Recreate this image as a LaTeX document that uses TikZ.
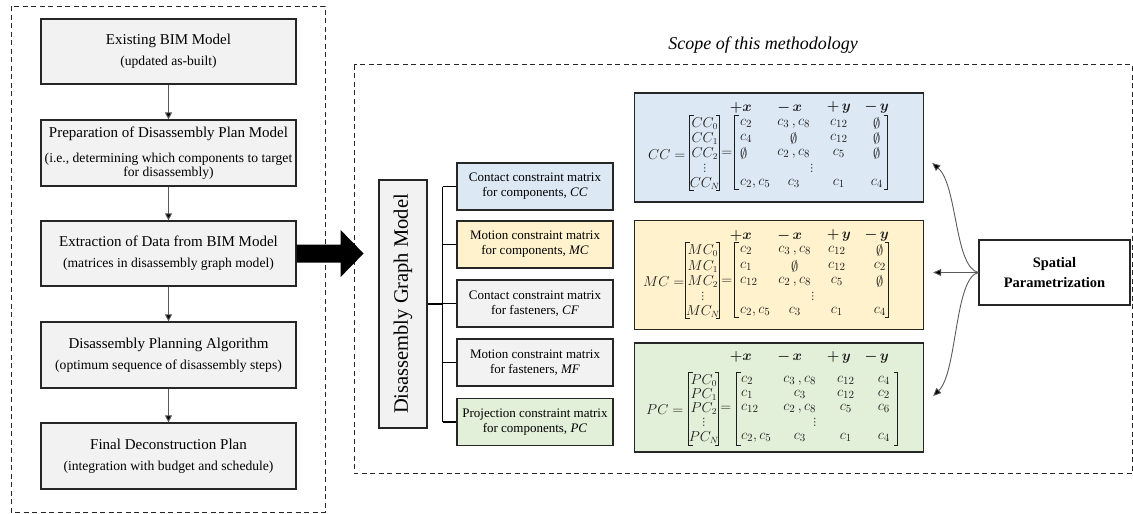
\documentclass[tikz,border=0pt]{standalone}
\usepackage{fontspec}
\setmainfont{Liberation Serif}
\newfontfamily\symfont{DejaVu Sans}
\usepackage{amsmath,amssymb,bm}
\usetikzlibrary{arrows.meta,calc}

\definecolor{boxgray}{HTML}{F2F2F2}
\definecolor{ccblue}{HTML}{DDE8F5}
\definecolor{mcyellow}{HTML}{FFF2CC}
\definecolor{pcgreen}{HTML}{E2F0D9}
\definecolor{edge}{HTML}{262626}
\definecolor{wire}{HTML}{5A5A5A}
\definecolor{ink}{HTML}{1E1E1E}

% one row of a constraint matrix: name prefix, y, four entries
\newcommand{\mxrow}[6]{%
  \node[mx,anchor=west] (#1-1) at (\cA,#2) {$#3$};
  \node[mx] (#1-2) at (\cB,#2) {$#4$};
  \node[mx] (#1-3) at (\cC,#2) {$#5$};
  \node[mx] (#1-4) at (\cD,#2) {$#6$};
}
% column headings of a constraint matrix
\newcommand{\mxhead}[2]{%
  \node[mxh] (#1-h1) at (107,#2) {$\bm{+x}$};
  \node[mxh] (#1-h2) at (156,#2) {$\bm{-\,x}$};
  \node[mxh] (#1-h3) at (205,#2) {$\bm{+\,y}$};
  \node[mxh] (#1-h4) at (243,#2) {$\bm{-\,y}$};
}
% square bracket pair spanning x1..x2, y1..y2
\newcommand{\brackets}[4]{%
  \draw[brk] (#1+4,#3) -- (#1,#3) -- (#1,#4) -- (#1+4,#4);
  \draw[brk] (#2-4,#3) -- (#2,#3) -- (#2,#4) -- (#2-4,#4);
}
% compact vertical ellipsis (single glyph)
\newcommand{\vdts}{{\symfont\fontsize{10}{10}\selectfont ⋮}}

\begin{document}
\begin{tikzpicture}[x=1pt,y=-1pt,
  flowbox/.style={draw=edge,line width=1.2pt,fill=boxgray,minimum width=255pt,
    align=center,font=\fontsize{13.6}{14}\selectfont,inner sep=2pt},
  subbox/.style={draw=edge,line width=1.2pt,minimum width=156pt,minimum height=47pt,
    align=center,font=\fontsize{13}{15}\selectfont,inner sep=1pt},
  matbox/.style={draw=edge,line width=1.4pt,minimum width=289pt,minimum height=109pt,inner sep=0pt},
  dashbox/.style={draw=black!85,line width=1pt,dash pattern=on 5pt off 3.5pt},
  flow/.style={draw=wire,line width=1pt,-{Triangle[length=7pt,width=7pt,fill=black]}},
  tree/.style={draw=black,line width=1.2pt},
  curvy/.style={draw=wire,line width=0.9pt,-{Triangle[length=8pt,width=7pt,fill=black]}},
  mx/.style={inner sep=0pt,text=ink,font=\fontsize{15.5}{16}\selectfont},
  vec/.style={inner sep=0pt,text=ink,font=\fontsize{13.5}{14}\selectfont},
  mxh/.style={inner sep=0pt,text=ink,font=\fontsize{14.5}{16}\selectfont},
  brk/.style={draw=ink,line width=0.9pt}]

\useasboundingbox (0,0) rectangle (1133,514);

% outer frames
\draw[dashbox] (11,6) rectangle (325,512);
\draw[dashbox] (354,64.5) rectangle (1132,473.5);
\node[font=\fontsize{18}{20}\selectfont\itshape] (scope) at (763,45) {Scope of this methodology};

% overall process
\node[flowbox,minimum height=65pt] (b1) at (168.5,51.5)
  {{\fontsize{15}{18}\selectfont Existing BIM Model}\\[7pt](updated as-built)};
\node[flowbox,minimum height=66pt] (b2) at (168.5,153)
  {{\fontsize{15}{18}\selectfont Preparation of Disassembly Plan Model}\\[11pt](i.e., determining which components to target\\for disassembly)};
\node[flowbox,minimum height=65pt] (b3) at (168.5,253.5)
  {{\fontsize{15}{18}\selectfont Extraction of Data from BIM Model}\\[7pt](matrices in disassembly graph model)};
\node[flowbox,minimum height=66pt] (b4) at (168.5,355)
  {{\fontsize{15}{18}\selectfont Disassembly Planning Algorithm}\\[7pt](optimum sequence of disassembly steps)};
\node[flowbox,minimum height=66pt] (b5) at (168.5,456)
  {{\fontsize{15}{18}\selectfont Final Deconstruction Plan}\\[7pt](integration with budget and schedule)};

\draw[flow] (b1) -- (b2);
\draw[flow] (b2) -- (b3);
\draw[flow] (b3) -- (b4);
\draw[flow] (b4) -- (b5);

% block arrow into the methodology
\fill[black] (b3.east) ++(0,-9) -- ++(44,0) -- ++(0,-14.5) -- ++(23,23.5)
  -- ++(-23,23.5) -- ++(0,-14.5) -- ++(-44,0) -- cycle;

% disassembly graph model
\node[draw=edge,line width=1.2pt,fill=boxgray,minimum width=248pt,minimum height=48pt,
  rotate=90,font=\fontsize{20.5}{22}\selectfont,inner sep=0pt] (dgm) at (403,304) {Disassembly Graph Model};

\node[subbox,fill=ccblue] (cc) at (535,186.5) {Contact constraint matrix\\for components, \textit{CC}};
\node[subbox,fill=mcyellow] (mc) at (535,244.5) {Motion constraint matrix\\for components, \textit{MC}};
\node[subbox,fill=boxgray] (cf) at (535,303.5) {Contact constraint matrix\\for fasteners, \textit{CF}};
\node[subbox,fill=boxgray] (mf) at (535,362.5) {Motion constraint matrix\\for fasteners, \textit{MF}};
\node[subbox,fill=pcgreen] (pc) at (535,422) {Projection constraint matrix\\for components, \textit{PC}};

\draw[tree] (dgm.south) -- ++(15,0) coordinate (trunk);
\draw[tree] (trunk |- cc.west) -- (trunk |- pc.west);
\foreach \n in {cc,mc,cf,mf,pc} \draw[tree] (trunk |- \n.west) -- (\n.west);

% constraint matrices
\node[matbox,fill=ccblue] (ccm) at (779,147.5) {};
\node[matbox,fill=mcyellow] (mcm) at (779,275) {};
\node[matbox,fill=pcgreen] (pcm) at (779,397.5) {};

\begin{scope}[shift={(ccm.north west)}]
  \def\cA{106}\def\cB{160}\def\cC{205}\def\cD{243}
  \mxhead{cch}{15.5}
  \node[vec,font=\fontsize{14}{14}\selectfont] (cc-lbl) at (33,62) {$CC =$};
  \node[vec] (cc-v0) at (71,31) {$CC_0$};
  \node[vec] (cc-v1) at (71,46) {$CC_1$};
  \node[vec] (cc-v2) at (71,61) {$CC_2$};
  \node[vec] (cc-vd) at (71,76) {\vdts};
  \node[vec] (cc-vN) at (71,91) {$CC_N$};
  \node[mx] (cc-eq) at (93,62) {$=$};
  \mxrow{cc-r1}{31}{c_2}{c_3\,,c_8}{c_{12}}{\emptyset}
  \mxrow{cc-r2}{46}{c_4}{\emptyset}{c_{12}}{\emptyset}
  \mxrow{cc-r3}{61}{\emptyset}{c_2\,,c_8}{c_5}{\emptyset}
  \node[mx] (cc-dots) at (178,76) {\vdts};
  \mxrow{cc-r4}{91}{c_2,c_5}{c_3}{c_1}{c_4}
  \brackets{56}{86}{23}{98}
  \brackets{101}{254}{23}{97}
\end{scope}

\begin{scope}[shift={(mcm.north west)}]
  \def\cA{106}\def\cB{161}\def\cC{203}\def\cD{246}
  \mxhead{mch}{16}
  \node[vec,font=\fontsize{14}{14}\selectfont] (mc-lbl) at (30,62) {$MC =$};
  \node[vec] (mc-v0) at (69,31) {$MC_0$};
  \node[vec] (mc-v1) at (69,47) {$MC_1$};
  \node[vec] (mc-v2) at (69,62) {$MC_2$};
  \node[vec] (mc-vd) at (69,77) {\vdts};
  \node[vec] (mc-vN) at (69,92) {$MC_N$};
  \node[mx] (mc-eq) at (93,62) {$=$};
  \mxrow{mc-r1}{31}{c_2}{c_3\,,c_8}{c_{12}}{\emptyset}
  \mxrow{mc-r2}{47}{c_1}{\emptyset}{c_{12}}{c_2}
  \mxrow{mc-r3}{62}{c_{12}}{c_2\,,c_8}{c_5}{\emptyset}
  \node[mx] (mc-dots) at (179,77) {\vdts};
  \mxrow{mc-r4}{92}{c_2,c_5}{c_3}{c_1}{c_4}
  \brackets{52}{86}{23}{99}
  \brackets{101}{255}{23}{98}
\end{scope}

\begin{scope}[shift={(pcm.north west)}]
  \def\cA{107}\def\cB{166}\def\cC{212}\def\cD{250}
  \mxhead{pch}{15}
  \node[vec,font=\fontsize{14}{14}\selectfont] (pc-lbl) at (31,67) {$PC =$};
  \node[vec] (pc-v0) at (70,38) {$PC_0$};
  \node[vec] (pc-v1) at (70,52) {$PC_1$};
  \node[vec] (pc-v2) at (70,66) {$PC_2$};
  \node[vec] (pc-vd) at (70,80.5) {\vdts};
  \node[vec] (pc-vN) at (70,95) {$PC_N$};
  \node[mx] (pc-eq) at (92,67) {$=$};
  \mxrow{pc-r1}{38}{c_2}{c_3\,,c_8}{c_{12}}{c_4}
  \mxrow{pc-r2}{52}{c_1}{c_3}{c_{12}}{c_2}
  \mxrow{pc-r3}{66}{c_{12}}{c_2\,,c_8}{c_5}{c_6}
  \node[mx] (pc-dots) at (181,80.5) {\vdts};
  \mxrow{pc-r4}{95}{c_2,c_5}{c_3}{c_1}{c_4}
  \brackets{55}{85}{30}{103}
  \brackets{103}{264}{30}{103}
\end{scope}

% spatial parametrization
\node[draw=edge,line width=1.2pt,fill=white,minimum width=151pt,minimum height=65pt,align=center,
  font=\fontsize{14.5}{20}\selectfont\bfseries] (sp) at (1054.5,272.5) {Spatial\\Parametrization};

\coordinate (cctip) at ($(ccm.east)+(8,15.5)$);
\coordinate (mctip) at ($(mcm.east |- sp.west)+(9,0)$);
\coordinate (pctip) at ($(pcm.east)+(9,-1.5)$);
\draw[curvy] (sp.west) .. controls ($(sp.west)+(-24,-5)$) and ($(sp.west)+(-21,-88)$) .. (cctip);
\draw[curvy] (sp.west) -- (mctip);
\draw[curvy] (sp.west) .. controls ($(sp.west)+(-24,5)$) and ($(sp.west)+(-21,100)$) .. (pctip);

\end{tikzpicture}
\end{document}
